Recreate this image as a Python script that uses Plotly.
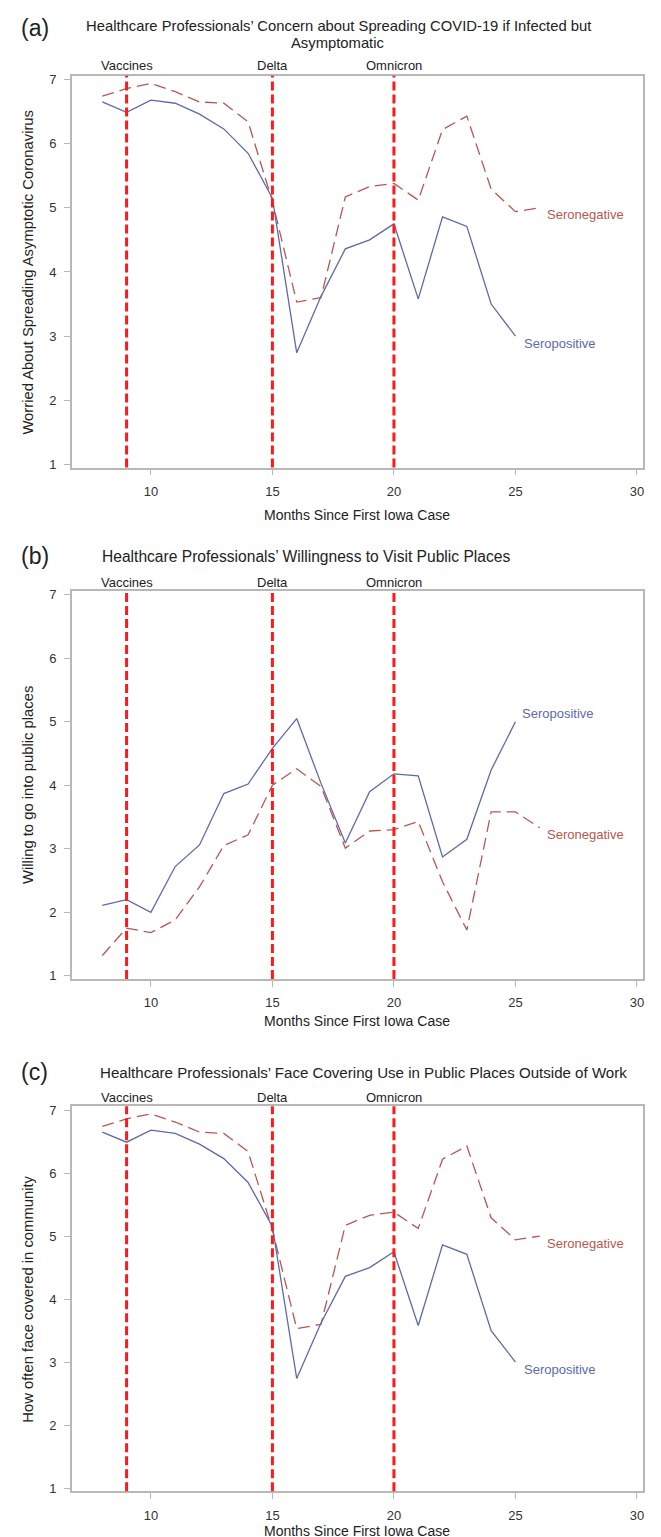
import plotly.graph_objects as go

W, H = 661, 1537

months_pos = [8, 9, 10, 11, 12, 13, 14, 15, 16, 17, 18, 19, 20, 21, 22, 23, 24, 25]
months_neg = [8, 9, 10, 11, 12, 13, 14, 15, 16, 17, 18, 19, 20, 21, 22, 23, 24, 25, 26]

# (a) worried about spreading asymptomatic coronavirus
a_pos = [6.65, 6.49, 6.68, 6.63, 6.46, 6.23, 5.85, 5.15, 2.74, 3.62, 4.36, 4.50, 4.75, 3.58, 4.86, 4.71, 3.50, 3.00]
a_neg = [6.74, 6.86, 6.94, 6.81, 6.65, 6.63, 6.34, 5.10, 3.53, 3.60, 5.17, 5.33, 5.38, 5.12, 6.22, 6.43, 5.29, 4.94, 5.00]

# (b) willing to go into public places
b_pos = [2.11, 2.20, 2.00, 2.72, 3.06, 3.87, 4.02, 4.58, 5.05, 4.03, 3.09, 3.90, 4.18, 4.15, 2.87, 3.15, 4.24, 5.00]
b_neg = [1.32, 1.75, 1.68, 1.88, 2.40, 3.05, 3.22, 4.00, 4.26, 3.98, 3.01, 3.28, 3.30, 3.43, 2.48, 1.72, 3.58, 3.58, 3.33]

# (c) how often face covered in community
c_pos = [6.65, 6.49, 6.68, 6.63, 6.46, 6.23, 5.85, 5.15, 2.74, 3.62, 4.36, 4.50, 4.75, 3.58, 4.86, 4.71, 3.50, 3.00]
c_neg = [6.74, 6.86, 6.94, 6.81, 6.65, 6.63, 6.34, 5.10, 3.53, 3.60, 5.17, 5.33, 5.38, 5.12, 6.22, 6.43, 5.29, 4.94, 5.00]

event_months = [9, 15, 20]
event_labels = ["Vaccines", "Delta", "Omnicron"]

x_ticks = [10, 15, 20, 25, 30]
y_ticks = [1, 2, 3, 4, 5, 6, 7]

panel_letters = ["(a)", "(b)", "(c)"]
panel_titles = [
    ["Healthcare Professionals\u2019 Concern about Spreading COVID-19 if Infected but", "Asymptomatic"],
    ["Healthcare Professionals\u2019 Willingness to Visit Public Places"],
    ["Healthcare Professionals\u2019 Face Covering Use in Public Places Outside of Work"],
]
y_titles = [
    "Worried About Spreading Asymptotic Coronavirus",
    "Willing to go into public places",
    "How often face covered in community",
]
x_title = "Months Since First Iowa Case"

POS_COLOR = "#5d6aa9"
NEG_COLOR = "#b9574f"
FONT = "Arial, Liberation Sans, sans-serif"
TXT = "#222222"

def py(px):
    return 1 - px / H

# pixel layout per panel
panels = [
    dict(top=64, bot=458, title_ys=[14, 31], title_x=331, title_anchor="center", title_size=14.8,
         letter_y=16, ev_y=54, xt_y=506,
         pos=a_pos, neg=a_neg, pos_shift=(7, -7), neg_shift=(5, -7)),
    dict(top=582, bot=972, title_ys=[547], title_x=92, title_anchor="left", title_size=15.6,
         letter_y=547, ev_y=573, xt_y=1014,
         pos=b_pos, neg=b_neg, pos_shift=(5, 8), neg_shift=(5, -7)),
    dict(top=1100, bot=1487, title_ys=[1066], title_x=90, title_anchor="left", title_size=15.1,
         letter_y=1066, ev_y=1091, xt_y=1527,
         pos=c_pos, neg=c_neg, pos_shift=(7, -7), neg_shift=(5, -7)),
]

fig = go.Figure()
annotations = []
shapes = []
layout = {}

x_left, x_right = 64, 636

for i, p in enumerate(panels):
    n = "" if i == 0 else str(i + 1)
    xa, ya = "x" + n, "y" + n
    fig.add_trace(go.Scatter(x=months_neg, y=p["neg"], mode="lines", xaxis=xa, yaxis=ya,
                             line=dict(color=NEG_COLOR, width=1.3, dash="12px,6px"),
                             showlegend=False, hoverinfo="skip"))
    fig.add_trace(go.Scatter(x=months_pos, y=p["pos"], mode="lines", xaxis=xa, yaxis=ya,
                             line=dict(color=POS_COLOR, width=1.3),
                             showlegend=False, hoverinfo="skip"))
    axis_common = dict(showline=True, mirror=True, linecolor="#b8b8b8", linewidth=1.5,
                       showgrid=False, zeroline=False, ticks="outside", ticklen=6,
                       tickcolor="#b8b8b8", tickwidth=1, ticklabelstandoff=5,
                       tickfont=dict(family=FONT, size=13, color="#333333"))
    layout["xaxis" + n] = dict(domain=[x_left / W, x_right / W], anchor=ya,
                               range=[6.75, 30.25], tickvals=x_ticks, **axis_common)
    layout["yaxis" + n] = dict(domain=[py(p["bot"]), py(p["top"])], anchor=xa,
                               range=[0.95, 7.06], tickvals=y_ticks, **axis_common)
    # y axis title
    annotations.append(dict(x=20 / W, y=py((p["top"] + p["bot"]) / 2), xref="paper", yref="paper",
                            text=y_titles[i], textangle=-90, showarrow=False,
                            xanchor="center", yanchor="middle",
                            font=dict(family=FONT, size=14.8, color=TXT)))
    # event lines and labels
    for m, lab in zip(event_months, event_labels):
        shapes.append(dict(type="line", xref=xa, yref=ya + " domain", x0=m, x1=m, y0=0, y1=1,
                           line=dict(color="#ff1a1a", width=3, dash="9px,4px")))
        annotations.append(dict(x=m, y=py(p["ev_y"]), xref=xa, yref="paper", text=lab,
                                showarrow=False, xanchor="center", yanchor="middle",
                                font=dict(family=FONT, size=13, color=TXT)))
    # series labels
    annotations.append(dict(x=months_neg[-1], y=p["neg"][-1], xref=xa, yref=ya, text="Seronegative",
                            showarrow=False, xanchor="left", yanchor="middle",
                            xshift=p["neg_shift"][0], yshift=p["neg_shift"][1],
                            font=dict(family=FONT, size=13, color=NEG_COLOR)))
    annotations.append(dict(x=months_pos[-1], y=p["pos"][-1], xref=xa, yref=ya, text="Seropositive",
                            showarrow=False, xanchor="left", yanchor="middle",
                            xshift=p["pos_shift"][0], yshift=p["pos_shift"][1],
                            font=dict(family=FONT, size=13, color=POS_COLOR)))
    # titles
    for line, ty in zip(panel_titles[i], p["title_ys"]):
        annotations.append(dict(x=p["title_x"] / W, y=py(ty), xref="paper", yref="paper",
                                text=line, showarrow=False, xanchor=p["title_anchor"],
                                yanchor="middle",
                                font=dict(family=FONT, size=p["title_size"], color=TXT)))
    annotations.append(dict(x=11 / W, y=py(p["letter_y"]), xref="paper", yref="paper",
                            text=panel_letters[i], showarrow=False, xanchor="left", yanchor="middle",
                            font=dict(family=FONT, size=23, color=TXT)))
    annotations.append(dict(x=(x_left + x_right) / 2 / W, y=py(p["xt_y"]), xref="paper", yref="paper",
                            text=x_title, showarrow=False, xanchor="center", yanchor="middle",
                            font=dict(family=FONT, size=14, color=TXT)))

fig.update_layout(width=W, height=H, margin=dict(l=0, r=0, t=0, b=0),
                  paper_bgcolor="white", plot_bgcolor="white",
                  annotations=annotations, shapes=shapes, **layout)

fig.write_html("out.html")
